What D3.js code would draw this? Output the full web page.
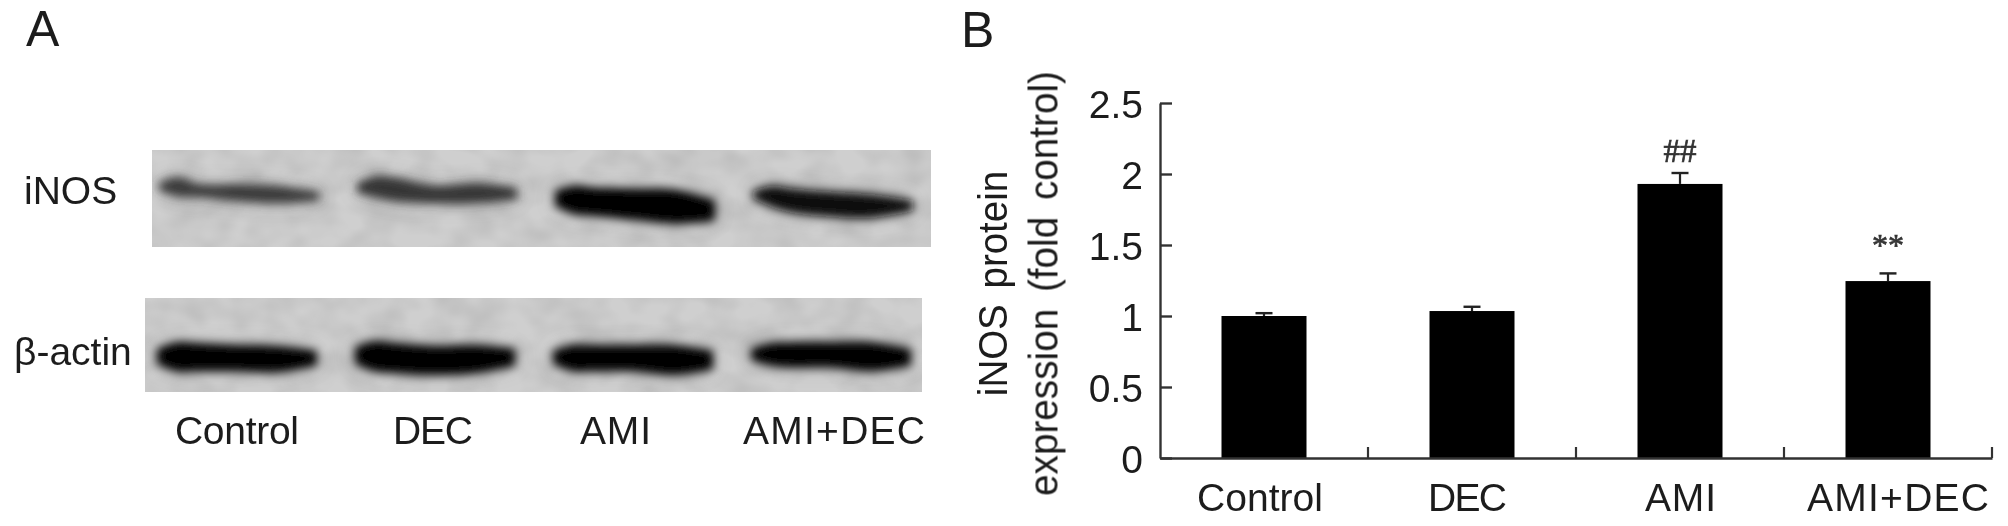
<!DOCTYPE html>
<html><head><meta charset="utf-8">
<script src="https://cdn.jsdelivr.net/npm/d3@7/dist/d3.min.js"></script>
<style>html,body{margin:0;padding:0;background:#fff}svg{display:block}text{font-family:"Liberation Sans",Arial,sans-serif;fill:#1c1c1c}</style>
</head><body><div id="chart"></div>
<script>
// Panel B data
const categories = ["Control","DEC","AMI","AMI+DEC"];
const means = [1.0,1.035,1.93,1.246];
const errorTops = [1.02,1.065,2.007,1.30];
const markers = ["","","##","**"];
const yTicks = [0,0.5,1,1.5,2,2.5];
const yTickLabels = ["0","0.5","1","1.5","2","2.5"];

// Panel A data: band outline along each lane, as % of blot height, plus darkness (0-1)
const profileStops = [0,0.12,0.25,0.5,0.75,1];
const inosTop    = [[34,28,35,35,37,43],[34,27,29,37,34,39],[42,37,39,40,41,52],[42,37,40,43,46,52]];
const inosBottom = [[42,48,49,53,55,52],[44,49,53,55,55,51],[58,66,68,72,76,73],[50,59,65,69,70,63]];
const inosDark   = [0.72,0.74,0.98,0.92];
const actinTop    = [[54,47,48,50,51,56],[52,46,48,51,50,54],[56,50,50,50,50,56],[54,48,47,47,47,54]];
const actinBottom = [[70,78,78,78,79,72],[70,78,80,82,80,72],[70,78,78,78,82,76],[66,72,74,74,78,72]];
const actinDark   = [1,1,0.98,1];

// Label nudges and widths
const blotLabelShift=[-2,-4,-19.5,1], blotLabelWidth=[124,80,71,182];
const plotLabelShift=[-4,-4.5,0.5,10], plotLabelWidth=[126,79,71,182];

const W=2008,H=526;
const svg=d3.select("#chart").append("svg").attr("width",W).attr("height",H).attr("viewBox",`0 0 ${W} ${H}`);
const defs=svg.append("defs");
function gauss(id,sd){
  defs.append("filter").attr("id",id).attr("filterUnits","userSpaceOnUse")
    .attr("x",0).attr("y",0).attr("width",W).attr("height",H)
    .append("feGaussianBlur").attr("stdDeviation",sd);
}
gauss("blur",4.6); gauss("halo",10); gauss("tb",0.6);
const mott=defs.append("filter").attr("id","mottle").attr("x","0").attr("y","0").attr("width","100%").attr("height","100%");
mott.append("feTurbulence").attr("type","fractalNoise").attr("baseFrequency","0.03 0.04").attr("numOctaves",2).attr("seed",7);
mott.append("feColorMatrix").attr("type","matrix").attr("values","0 0 0 0 0  0 0 0 0 0  0 0 0 0 0  0.16 0 0 0 -0.05");

const root=svg.append("g").attr("filter","url(#tb)");

// ---------- Panel A ----------
const lane=d3.scaleBand().domain(categories).range([140,932]);
const along=d3.scaleLinear().domain([0,1]).range([-80,80]);
const grey=d3.scaleLinear().domain([0,1]).range(["#cfcfcf","#000000"]);

function blot(x0,x1,y0,y1,tops,bottoms,dark,dx){
  const yS=d3.scaleLinear().domain([0,100]).range([y0,y1]);
  const g=root.append("g");
  const clip="c"+y0;
  defs.append("clipPath").attr("id",clip).append("rect").attr("x",x0).attr("y",y0).attr("width",x1-x0).attr("height",y1-y0);
  g.append("rect").attr("x",x0).attr("y",y0).attr("width",x1-x0).attr("height",y1-y0).attr("fill","#cfcfcf");
  g.append("rect").attr("x",x0).attr("y",y0).attr("width",x1-x0).attr("height",y1-y0).attr("fill","#000").attr("filter","url(#mottle)");
  const inner=g.append("g").attr("clip-path",`url(#${clip})`);
  categories.forEach((c,i)=>{
    const cx=lane(c)+lane.bandwidth()/2+dx;
    const area=d3.area().curve(d3.curveCatmullRom)
      .x(t=>cx+along(t))
      .y0((t,j)=>yS(tops[i][j]))
      .y1((t,j)=>yS(bottoms[i][j]));
    inner.append("path").attr("d",area(profileStops)).attr("fill","#555").attr("opacity",0.25).attr("filter","url(#halo)");
    inner.append("path").attr("d",area(profileStops)).attr("fill",grey(dark[i])).attr("filter","url(#blur)");
  });
}
blot(152,931,150,247,inosTop,inosBottom,inosDark,0);
blot(145,922,298,392,actinTop,actinBottom,actinDark,-2);

root.append("text").attr("x",26).attr("y",46).attr("font-size",50).text("A");
root.append("text").attr("x",961).attr("y",47).attr("font-size",50).text("B");
root.append("text").attr("x",24).attr("y",204).attr("font-size",39).text("iNOS");
root.append("text").attr("x",14).attr("y",365).attr("font-size",39).text("\u03b2-actin");
categories.forEach((c,i)=>{
  root.append("text").attr("x",lane(c)+lane.bandwidth()/2+blotLabelShift[i]).attr("y",443.5)
    .attr("text-anchor","middle").attr("font-size",39).attr("textLength",blotLabelWidth[i]).text(c);
});

// ---------- Panel B ----------
const x=d3.scaleBand().domain(categories).range([1160,1992]);
const y=d3.scaleLinear().domain([0,2.5]).range([458,103]);
const barW=85,capW=17;
const mid=c=>x(c)+x.bandwidth()/2;
const plot=root.append("g");
plot.selectAll("rect.bar").data(categories).join("rect").attr("class","bar")
  .attr("x",c=>mid(c)-barW/2).attr("width",barW)
  .attr("y",(c,i)=>y(means[i])).attr("height",(c,i)=>y(0)-y(means[i])).attr("fill","#000");
plot.selectAll("line.err").data(categories).join("line").attr("class","err")
  .attr("x1",mid).attr("x2",mid)
  .attr("y1",(c,i)=>y(means[i])).attr("y2",(c,i)=>y(errorTops[i])).attr("stroke","#222").attr("stroke-width",2.2);
plot.selectAll("line.cap").data(categories).join("line").attr("class","cap")
  .attr("x1",c=>mid(c)-capW/2).attr("x2",c=>mid(c)+capW/2)
  .attr("y1",(c,i)=>y(errorTops[i])).attr("y2",(c,i)=>y(errorTops[i])).attr("stroke","#222").attr("stroke-width",2.4);

const yAxis=d3.axisLeft(y).tickValues(yTicks).tickFormat((d,i)=>yTickLabels[i]).tickSizeInner(-12).tickSizeOuter(0).tickPadding(17);
const ay=root.append("g").attr("transform","translate(1160,0)").call(yAxis);
ay.selectAll("text").attr("font-size",39).attr("font-family",'"Liberation Sans"').attr("dy","0.36em").attr("fill","#1c1c1c");
ay.selectAll("line,path").attr("stroke","#333").attr("stroke-width",2.4);

const xAxis=d3.axisBottom(x).tickSize(0).tickFormat(()=>"");
const ax=root.append("g").attr("transform","translate(0,458)").call(xAxis);
ax.selectAll("path").attr("stroke","#333").attr("stroke-width",2.4);
ax.selectAll(".tick").remove();
root.selectAll("line.sep").data(categories).join("line").attr("class","sep")
  .attr("x1",c=>x(c)+x.bandwidth()).attr("x2",c=>x(c)+x.bandwidth())
  .attr("y1",458).attr("y2",447).attr("stroke","#333").attr("stroke-width",2.2);

categories.forEach((c,i)=>{
  root.append("text").attr("x",mid(c)+plotLabelShift[i]).attr("y",511)
    .attr("text-anchor","middle").attr("font-size",39).attr("textLength",plotLabelWidth[i]).text(c);
});
categories.forEach((c,i)=>{
  if(!markers[i])return;
  root.append("text").attr("x",mid(c)).attr("y",y(errorTops[i])-(i===2?11:0)-(i===3?17:0))
    .attr("text-anchor","middle").attr("font-size",i===2?33:32)
    .attr("stroke","#333").attr("stroke-width",0.7)
    .style("font-family",'"Liberation Serif",serif').style("fill","#333").text(markers[i]);
});
[["iNOS protein",1007,38.5,5],["expression (fold control)",1057,38.7,6]].forEach(([t,px,fs,ws])=>{
  root.append("text").attr("transform",`translate(${px},283.5) rotate(-90) scale(1,1.07)`)
    .attr("text-anchor","middle").attr("font-size",fs).attr("word-spacing",ws).text(t);
});
</script></body></html>
